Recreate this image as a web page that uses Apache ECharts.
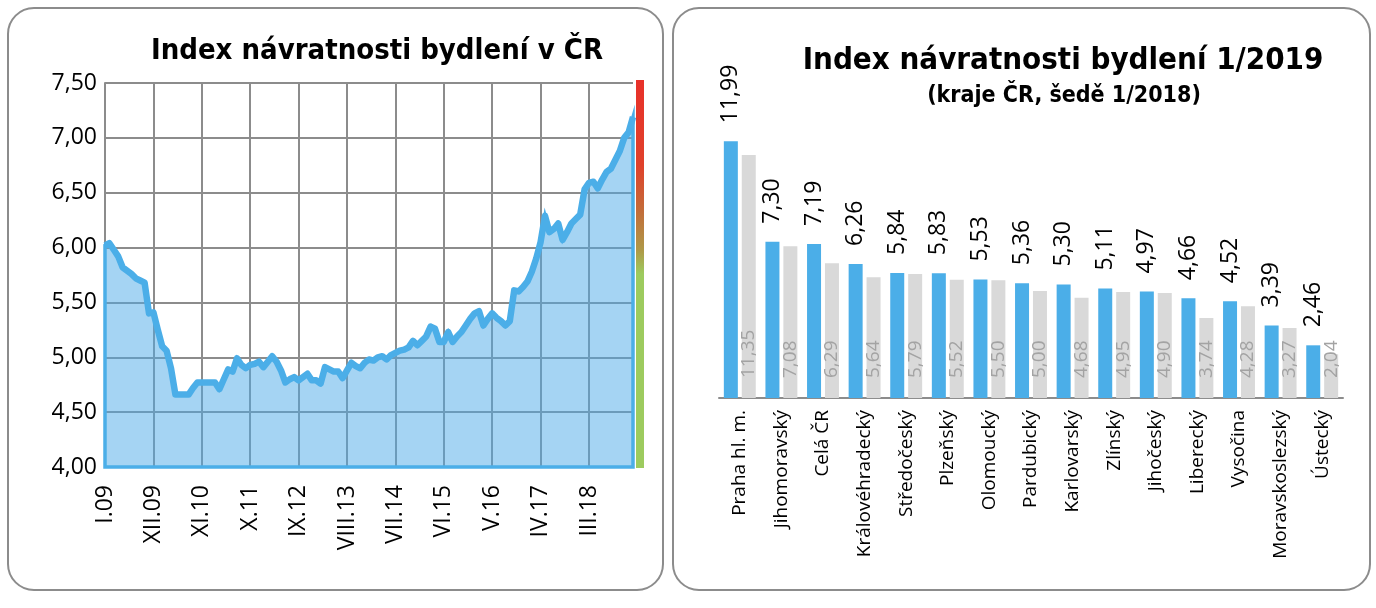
<!DOCTYPE html>
<html>
<head>
<meta charset="utf-8">
<script src="https://cdn.jsdelivr.net/npm/echarts@6/dist/echarts.min.js"></script>
<style>
  html, body { margin: 0; padding: 0; background: #fff; }
  #chart { width: 1376px; height: 608px; }
</style>
</head>
<body>
<div id="chart"></div>
<script>
  // levy graf: mesicni index I.09 - I.19
  var ROMAN = ['I', 'II', 'III', 'IV', 'V', 'VI', 'VII', 'VIII', 'IX', 'X', 'XI', 'XII'];
  var years = ['09', '10', '11', '12', '13', '14', '15', '16', '17', '18', '19'];
  var indexCR = [
    6.02, 6.04, 5.98, 5.92, 5.82, 5.79, 5.76, 5.72, 5.70, 5.68, 5.40, 5.41,
    5.25, 5.10, 5.06, 4.90, 4.66, 4.66, 4.66, 4.66, 4.72, 4.77, 4.77, 4.77,
    4.77, 4.77, 4.71, 4.80, 4.89, 4.87, 4.99, 4.93, 4.90, 4.93, 4.94, 4.96,
    4.91, 4.96, 5.01, 4.96, 4.88, 4.77, 4.80, 4.82, 4.79, 4.82, 4.85, 4.79,
    4.79, 4.76, 4.91, 4.89, 4.87, 4.87, 4.81, 4.88, 4.95, 4.92, 4.90, 4.95,
    4.98, 4.97, 5.00, 5.01, 4.98, 5.02, 5.04, 5.06, 5.07, 5.09, 5.15, 5.11,
    5.15, 5.19, 5.28, 5.26, 5.14, 5.14, 5.23, 5.14, 5.19, 5.23, 5.29, 5.35,
    5.40, 5.42, 5.29, 5.35, 5.40, 5.36, 5.33, 5.29, 5.33, 5.61, 5.60, 5.64,
    5.69, 5.78, 5.90, 6.05, 6.29, 6.14, 6.17, 6.22, 6.07, 6.14, 6.22, 6.26,
    6.30, 6.53, 6.59, 6.60, 6.54, 6.62, 6.69, 6.72, 6.80, 6.88, 7.00, 7.05,
    7.19
  ];
  var yTicks = [4, 4.5, 5, 5.5, 6, 6.5, 7, 7.5];

  // pravy graf: kraje
  var regions = ['Praha hl. m.', 'Jihomoravský', 'Celá ČR', 'Královéhradecký', 'Středočeský',
    'Plzeňský', 'Olomoucký', 'Pardubický', 'Karlovarský', 'Zlínský', 'Jihočeský',
    'Liberecký', 'Vysočina', 'Moravskoslezský', 'Ústecký'];
  var idx2019 = [11.99, 7.30, 7.19, 6.26, 5.84, 5.83, 5.53, 5.36, 5.30, 5.11, 4.97, 4.66, 4.52, 3.39, 2.46];
  var idx2018 = [11.35, 7.08, 6.29, 5.64, 5.79, 5.52, 5.50, 5.00, 4.68, 4.95, 4.90, 3.74, 4.28, 3.27, 2.04];

  var months = [];
  years.forEach(function (y) {
    ROMAN.forEach(function (r) { months.push(r + '.' + y); });
  });
  months = months.slice(0, indexCR.length);

  var BLUE = '#4baee8';
  var GRID = '#8c8c8c';
  var LABEL_FONT = "'Open Sans', 'Noto Sans', sans-serif";
  var TITLE_FONT = "'Liberation Sans Narrow', 'DejaVu Sans Condensed', 'Liberation Sans', sans-serif";
  function cz(v) { return v.toFixed(2).replace('.', ','); }

  // rozmisteni (px)
  var G1 = { left: 105, top: 83, right: 633, bottom: 467 };
  var G2 = { left: 719, top: 141, right: 1343, bottom: 398 };

  var chart = echarts.init(document.getElementById('chart'));
  chart.setOption({
    animation: false,
    backgroundColor: '#fff',
    title: [
      {
        text: 'Index návratnosti bydlení v ČR',
        left: 372, top: 32, textAlign: 'center',
        textStyle: { fontFamily: TITLE_FONT, fontWeight: 'bold', fontSize: 29, color: '#000' }
      },
      {
        text: 'Index návratnosti bydlení 1/2019',
        left: 1058, top: 40, textAlign: 'center',
        textStyle: { fontFamily: TITLE_FONT, fontWeight: 'bold', fontSize: 31, color: '#000' }
      },
      {
        text: '(kraje ČR, šedě 1/2018)',
        left: 1059, top: 80, textAlign: 'center',
        textStyle: { fontFamily: TITLE_FONT, fontWeight: 'bold', fontSize: 23, color: '#000' }
      }
    ],
    grid: [
      { left: G1.left, top: G1.top, width: G1.right - G1.left, height: G1.bottom - G1.top },
      { left: G2.left, top: G2.top, width: G2.right - G2.left, height: G2.bottom - G2.top }
    ],
    xAxis: [
      {
        gridIndex: 0,
        type: 'category',
        data: months,
        boundaryGap: false,
        axisLine: { show: true, lineStyle: { color: GRID, width: 2 } },
        axisTick: { show: false },
        axisLabel: {
          interval: 10, rotate: 90, margin: 18,
          fontSize: 23, color: '#000', fontFamily: LABEL_FONT
        },
        splitLine: { show: true, interval: 10, lineStyle: { color: GRID, width: 2 } }
      },
      {
        gridIndex: 1,
        type: 'category',
        data: regions,
        axisLine: { show: true, lineStyle: { color: GRID, width: 2 } },
        axisTick: { show: false },
        axisLabel: {
          interval: 0, rotate: 90, margin: 12,
          fontSize: 19, color: '#000', fontFamily: LABEL_FONT
        }
      }
    ],
    yAxis: [
      {
        gridIndex: 0,
        type: 'value',
        min: yTicks[0], max: yTicks[yTicks.length - 1], interval: 0.5,
        axisLine: { show: true, lineStyle: { color: GRID, width: 2 } },
        axisTick: { show: false },
        axisLabel: {
          formatter: cz, margin: 8,
          fontSize: 23, color: '#000', fontFamily: LABEL_FONT
        },
        splitLine: { show: true, lineStyle: { color: GRID, width: 2 } }
      },
      {
        gridIndex: 1,
        type: 'value',
        min: 0, max: 12,
        show: false
      }
    ],
    series: [
      {
        // plocha pod krivkou s obrysem
        type: 'custom',
        xAxisIndex: 0, yAxisIndex: 0,
        data: [[0, indexCR[0]]],
        z: 2,
        renderItem: function (params, api) {
          var pts = [api.coord([0, yTicks[0]])];
          indexCR.forEach(function (v, i) { pts.push(api.coord([i, v])); });
          pts.push(api.coord([indexCR.length - 1, yTicks[0]]));
          return {
            type: 'polygon',
            shape: { points: pts },
            style: { fill: 'rgba(76,170,232,0.5)', stroke: BLUE, lineWidth: 3.5 }
          };
        }
      },
      {
        type: 'line',
        xAxisIndex: 0, yAxisIndex: 0,
        data: indexCR,
        symbol: 'none',
        z: 3,
        lineStyle: { color: BLUE, width: 6.5, join: 'round' }
      },
      {
        name: '1/2019',
        type: 'bar',
        xAxisIndex: 1, yAxisIndex: 1,
        data: idx2019,
        barWidth: 14,
        barGap: '28%',
        itemStyle: { color: BLUE },
        label: {
          show: true, position: 'top', distance: 18,
          rotate: 90, align: 'left', verticalAlign: 'middle',
          formatter: function (p) { return cz(p.value); },
          fontSize: 23, color: '#000', fontFamily: LABEL_FONT
        }
      },
      {
        name: '1/2018',
        type: 'bar',
        xAxisIndex: 1, yAxisIndex: 1,
        data: idx2018,
        barWidth: 14,
        itemStyle: { color: '#d9d9d9' },
        label: {
          show: true, position: 'insideBottom', distance: 20,
          rotate: 90, align: 'left', verticalAlign: 'middle',
          formatter: function (p) { return cz(p.value); },
          fontSize: 19, color: '#a3a3a3', fontFamily: LABEL_FONT
        }
      }
    ],
    graphic: [
      {
        type: 'rect', silent: true,
        shape: { x: 8, y: 8, width: 655, height: 582, r: 26 },
        style: { fill: 'none', stroke: GRID, lineWidth: 2 }
      },
      {
        type: 'rect', silent: true,
        shape: { x: 673, y: 8, width: 697, height: 582, r: 26 },
        style: { fill: 'none', stroke: GRID, lineWidth: 2 }
      },
      {
        // barevny pruh vpravo od grafu
        type: 'rect', silent: true,
        shape: { x: G1.right + 3, y: G1.top - 3, width: 8, height: G1.bottom - G1.top + 4 },
        style: {
          fill: new echarts.graphic.LinearGradient(0, 0, 0, 1, [
            { offset: 0, color: '#e8312a' },
            { offset: 0.22, color: '#e0412b' },
            { offset: 0.34, color: '#c26e3a' },
            { offset: 0.44, color: '#ae9a48' },
            { offset: 0.5, color: '#9dcb5f' },
            { offset: 1, color: '#9dcb5f' }
          ])
        }
      }
    ]
  });
</script>
</body>
</html>
